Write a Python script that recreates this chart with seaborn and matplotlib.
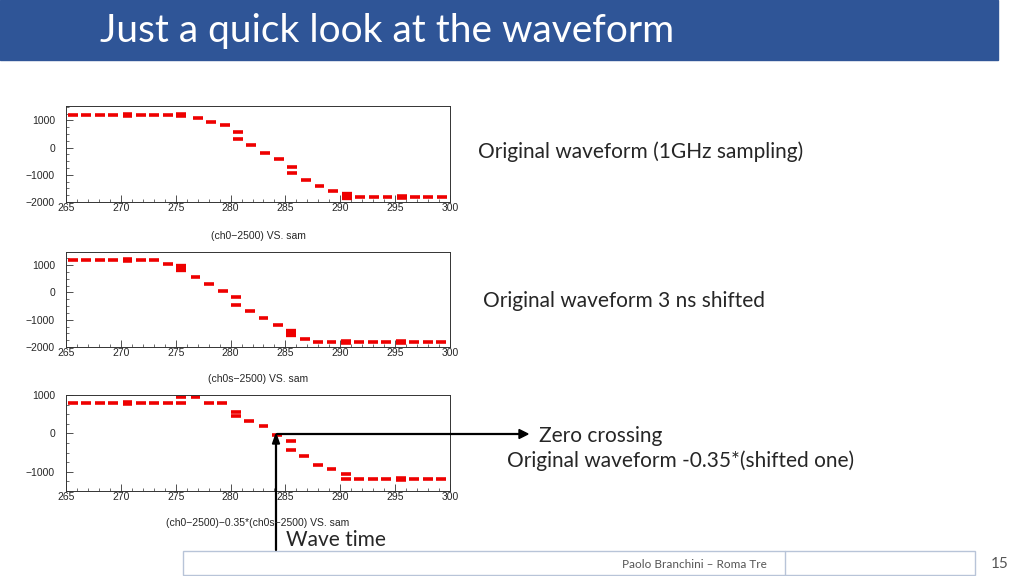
import matplotlib
matplotlib.use("Agg")
import matplotlib.pyplot as plt
import seaborn as sns
from matplotlib.patches import Rectangle
from matplotlib.ticker import AutoMinorLocator

sns.set_style("white")
plt.rcParams["font.family"] = "Lato"

# ---- data: sample position, value, bold flag ----
x1 = [265.6,266.8,268.1,269.3,270.6,271.8,273.0,274.3,275.5,277.0,278.2,279.5,280.7,280.7,281.9,283.1,284.4,285.6,285.6,286.9,288.1,289.3,290.6,291.8,293.1,294.3,295.6,296.8,298.0,299.3]
y1 = [1200,1200,1200,1200,1210,1200,1200,1200,1210,1080,960,830,580,300,80,-180,-430,-700,-940,-1200,-1430,-1580,-1780,-1820,-1820,-1820,-1820,-1820,-1820,-1820]
b1 = [0,0,0,0,1,0,0,0,1,0,0,0,0,0,0,0,0,0,0,0,0,0,2,0,0,0,1,0,0,0]

x2 = [265.6,266.8,268.1,269.3,270.6,271.8,273.0,274.3,275.5,276.8,278.0,279.3,280.5,280.5,281.8,283.0,284.3,285.5,286.8,288.0,289.2,290.5,291.7,293.0,294.2,295.5,296.7,298.0,299.2]
y2 = [1180,1180,1180,1180,1170,1180,1180,1030,880,560,300,60,-180,-450,-680,-940,-1200,-1500,-1700,-1800,-1800,-1800,-1800,-1800,-1800,-1800,-1800,-1800,-1800]
b2 = [0,0,0,0,1,0,0,0,2,0,0,0,0,0,0,0,0,2,0,0,0,1,0,0,0,1,0,0,0]

x3 = [265.6,266.8,268.1,269.3,270.6,271.8,273.0,274.3,275.5,275.5,276.8,278.0,279.2,280.5,280.5,281.7,283.0,284.2,285.5,285.5,286.7,288.0,289.2,290.5,290.5,291.7,293.0,294.2,295.5,296.7,298.0,299.2]
y3 = [800,800,800,800,800,800,800,800,800,950,950,800,800,550,450,310,180,-50,-200,-440,-580,-820,-940,-1070,-1200,-1200,-1200,-1200,-1200,-1200,-1200,-1200]
b3 = [0,0,0,0,1,0,0,0,0,0,0,0,0,0,0,0,0,0,0,0,0,0,0,0,0,0,0,0,1,0,0,0]

xticks = [265, 270, 275, 280, 285, 290, 295, 300]
titles = ["(ch0\u22122500) VS. sam", "(ch0s\u22122500) VS. sam",
          "(ch0\u22122500)\u22120.35*(ch0s\u22122500) VS. sam"]

fig = plt.figure(figsize=(10.24, 5.76), dpi=100)
W, H = 1024, 576

def fx(p): return p / W
def fy(p): return 1 - p / H

# title bar
fig.add_artist(Rectangle((0, fy(60)), fx(998), 60 / H, transform=fig.transFigure,
                         color="#2F5597", zorder=0))
fig.text(fx(100), fy(31), "Just a quick look at the waveform", color="white",
         fontsize=28, va="center", ha="left")

specs = [
    (x1, y1, b1, (-2000, 1530), [1000, 0, -1000, -2000], 106, 202, 236),
    (x2, y2, b2, (-2000, 1480), [1000, 0, -1000, -2000], 252, 347, 379),
    (x3, y3, b3, (-1500, 1000), [1000, 0, -1000], 395, 491, 523),
]
for i, (xs, ys, bs, yl, yt, top, bot, lab) in enumerate(specs):
    ax = fig.add_axes([fx(66), fy(bot), fx(450 - 66), (bot - top) / H])
    for lw in (0, 1, 2):
        sx = [x for x, b in zip(xs, bs) if b == lw]
        sy = [y for y, b in zip(ys, bs) if b == lw]
        ax.hlines(sy, [x - 0.45 for x in sx], [x + 0.45 for x in sx],
                  colors="#EE0000", linewidth=[2.6, 4.0, 6.0][lw])
    ax.set_xlim(265, 300)
    ax.set_ylim(*yl)
    ax.set_xticks(xticks)
    ax.set_yticks(yt)
    ax.set_xticklabels([str(t) for t in xticks], fontfamily="Liberation Sans", fontsize=7.5)
    ax.set_yticklabels([str(t).replace("-", "\u2212") for t in yt],
                       fontfamily="Liberation Sans", fontsize=7.5)
    ax.xaxis.set_minor_locator(AutoMinorLocator(5))
    ax.yaxis.set_minor_locator(AutoMinorLocator(4))
    ax.tick_params(which="both", bottom=True, left=True, direction="in", color="#333333")
    ax.tick_params(which="major", length=5, width=0.6)
    ax.tick_params(which="minor", length=2.5, width=0.5)
    ax.tick_params(axis="y", which="major", pad=8)
    ax.tick_params(axis="x", which="major", pad=1)
    for s in ax.spines.values():
        s.set_linewidth(0.7)
        s.set_color("#333333")
    fig.text(fx(258), fy(lab), titles[i], fontsize=7.5, ha="center", va="center",
             fontfamily="Liberation Sans")

fs = 15
fig.text(fx(478), fy(152), "Original waveform (1GHz sampling)", fontsize=fs, va="center")
fig.text(fx(483), fy(301), "Original waveform 3 ns shifted", fontsize=fs, va="center")
fig.text(fx(539), fy(436), "Zero crossing", fontsize=fs, va="center")
fig.text(fx(507), fy(461), "Original waveform -0.35*(shifted one)", fontsize=fs, va="center")
fig.text(fx(286), fy(540), "Wave time", fontsize=fs, va="center")

fig.add_artist(plt.Line2D([fx(277), fx(520)], [fy(434), fy(434)], color="black", lw=1.6,
                          transform=fig.transFigure))
fig.patches.append(matplotlib.patches.FancyArrow(fx(518), fy(434), fx(10), 0,
                   width=0.0, head_width=9 / H, head_length=fx(9), color="black",
                   transform=fig.transFigure, length_includes_head=True))
fig.add_artist(plt.Line2D([fx(276), fx(276)], [fy(550), fy(440)], color="black", lw=1.6,
                          transform=fig.transFigure))
fig.patches.append(matplotlib.patches.FancyArrow(fx(276), fy(444), 0, 10 / H,
                   width=0.0, head_width=fx(7), head_length=10 / H, color="black",
                   transform=fig.transFigure, length_includes_head=True))

# footer
fig.add_artist(Rectangle((fx(183), fy(575)), fx(975 - 183), 24 / H, transform=fig.transFigure,
                         fill=False, edgecolor="#B8C4D8", lw=1))
fig.add_artist(plt.Line2D([fx(785), fx(785)], [fy(575), fy(551)], color="#B8C4D8", lw=1,
                          transform=fig.transFigure))
fig.text(fx(694), fy(564), "Paolo Branchini \u2013 Roma Tre", fontsize=8.5, color="#555555",
         ha="center", va="center")
fig.text(fx(1000), fy(564), "15", fontsize=11, color="#555555", ha="center", va="center")

fig.savefig("out.png", dpi=100)
